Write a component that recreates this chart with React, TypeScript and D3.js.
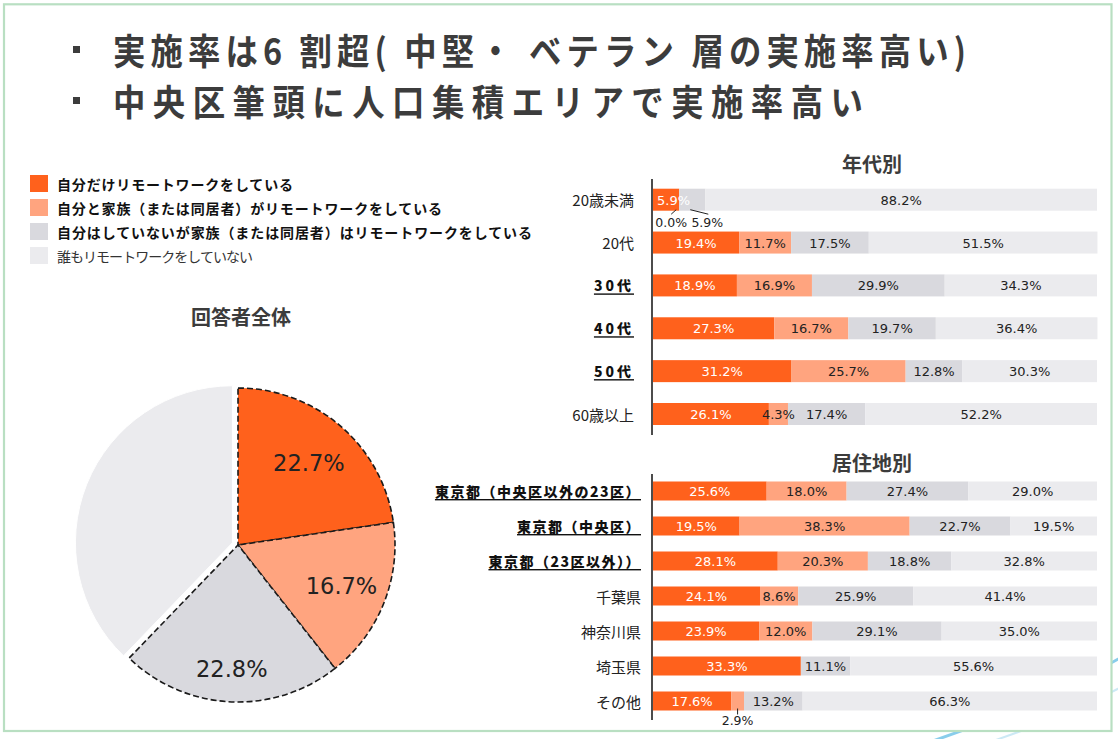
import React from "react";
import * as d3 from "d3";

// ---------- data ----------
const titleLines = [
  "実施率は6 割超( 中堅・ ベテラン 層の実施率高い)",
  "中央区筆頭に人口集積エリアで実施率高い",
];

const seriesNames = [
  "自分だけリモートワークをしている",
  "自分と家族（または同居者）がリモートワークをしている",
  "自分はしていないが家族（または同居者）はリモートワークをしている",
  "誰もリモートワークをしていない",
];
const seriesBold = [true, true, true, false];

const pieTitle = "回答者全体";
const pieValues = [22.7, 16.7, 22.8, 37.8];
const pieLabeled = [true, true, true, false];

const ageTitle = "年代別";
const ageCategories = ["20歳未満", "20代", "30代", "40代", "50代", "60歳以上"];
const ageEmphasis = [false, false, true, true, true, false];
const ageSolo = [5.9, 19.4, 18.9, 27.3, 31.2, 26.1];
const ageWithFamily = [0.0, 11.7, 16.9, 16.7, 25.7, 4.3];
const ageFamilyOnly = [5.9, 17.5, 29.9, 19.7, 12.8, 17.4];
const ageNone = [88.2, 51.5, 34.3, 36.4, 30.3, 52.2];

const regionTitle = "居住地別";
const regionCategories = [
  "東京都（中央区以外の23区）",
  "東京都（中央区）",
  "東京都（23区以外））",
  "千葉県",
  "神奈川県",
  "埼玉県",
  "その他",
];
const regionEmphasis = [true, true, true, false, false, false, false];
const regionSolo = [25.6, 19.5, 28.1, 24.1, 23.9, 33.3, 17.6];
const regionWithFamily = [18.0, 38.3, 20.3, 8.6, 12.0, 0, 2.9];
const regionFamilyOnly = [27.4, 22.7, 18.8, 25.9, 29.1, 11.1, 13.2];
const regionNone = [29.0, 19.5, 32.8, 41.4, 35.0, 55.6, 66.3];

// ---------- style ----------
const COLORS = ["#FF611C", "#FFA47F", "#D9D9DE", "#EBEBEE"];
const CJK = "'Noto Sans CJK JP', 'Noto Sans CJK SC', sans-serif";
const NUM = "'DejaVu Sans', Verdana, sans-serif";
const TEXT = "#222";
const HEAD = "#3c3c3c";

type Seg = { row: number; series: number; value: number; x0: number; x1: number };

function buildSegments(cols: number[][], x: d3.ScaleLinear<number, number>): Seg[] {
  const out: Seg[] = [];
  const n = cols[0].length;
  for (let r = 0; r < n; r++) {
    let acc = 0;
    cols.forEach((col, s) => {
      const v = col[r];
      out.push({ row: r, series: s, value: v, x0: x(acc), x1: x(acc + v) });
      acc += v;
    });
  }
  return out;
}

function StackedChart(props: {
  title: string;
  titleY: number;
  categories: string[];
  emphasis: boolean[];
  cols: number[][];
  yRange: [number, number];
  axisRange: [number, number];
  barH: number;
  labelRight: number;
  outside: Record<string, "left" | "right" | "below">;
  firstInsideLeft?: boolean;
  catFont: number;
  boldFont: number;
  boldSpacing: number;
}) {
  const x = d3.scaleLinear().domain([0, 100]).range([653, 1097]);
  const y = d3.scalePoint<string>().domain(props.categories).range(props.yRange);
  const segs = buildSegments(props.cols, x);
  const fmt = (v: number) => v.toFixed(1) + "%";
  const OUT_FS = 12.5;
  return (
    <g>
      <text
        x={872}
        y={props.titleY}
        textAnchor="middle"
        dominantBaseline="central"
        fontFamily={CJK}
        fontWeight={700}
        fontSize={20}
        fill={HEAD}
      >
        {props.title}
      </text>
      {segs.map((s, i) => (
        <rect
          key={"r" + i}
          x={s.x0}
          y={(y(props.categories[s.row]) as number) - props.barH / 2}
          width={Math.max(0, s.x1 - s.x0)}
          height={props.barH}
          fill={COLORS[s.series]}
        />
      ))}
      <line
        x1={652}
        x2={652}
        y1={props.axisRange[0]}
        y2={props.axisRange[1]}
        stroke="#111"
        strokeWidth={1.5}
      />
      {segs.map((s, i) => {
        const cy = y(props.categories[s.row]) as number;
        const key = s.row + "-" + s.series;
        const mode = props.outside[key];
        const color = s.series === 0 ? "#fff" : TEXT;
        if (mode) {
          const bottom = cy + props.barH / 2;
          const ly = bottom + 12;
          const cx = (s.x0 + s.x1) / 2;
          if (mode === "left") {
            const lx = cx - 8;
            return (
              <g key={"t" + i}>
                <line x1={lx} y1={bottom + 3.5} x2={s.x0 - 3} y2={bottom - 1} stroke="#222" strokeWidth={1} />
                <text x={lx} y={ly} textAnchor="middle" dominantBaseline="central" fontFamily={NUM} fontSize={OUT_FS} fill={TEXT}>
                  {fmt(s.value)}
                </text>
              </g>
            );
          }
          if (mode === "right") {
            const lx = cx + 15;
            return (
              <g key={"t" + i}>
                <line x1={cx - 2} y1={bottom - 1} x2={lx + 1} y2={bottom + 3.5} stroke="#222" strokeWidth={1} />
                <text x={lx} y={ly} textAnchor="middle" dominantBaseline="central" fontFamily={NUM} fontSize={OUT_FS} fill={TEXT}>
                  {fmt(s.value)}
                </text>
              </g>
            );
          }
          return (
            <g key={"t" + i}>
              <line x1={cx} y1={bottom - 2} x2={cx} y2={bottom + 4} stroke="#222" strokeWidth={1} />
              <text x={cx} y={ly - 2} textAnchor="middle" dominantBaseline="central" fontFamily={NUM} fontSize={OUT_FS} fill={TEXT}>
                {fmt(s.value)}
              </text>
            </g>
          );
        }
        if (s.value <= 0) return null;
        const narrowStart = props.firstInsideLeft && s.series === 0 && s.x1 - s.x0 < 34;
        return (
          <text
            key={"t" + i}
            x={narrowStart ? s.x0 + 4 : (s.x0 + s.x1) / 2}
            y={cy + 0.5}
            textAnchor={narrowStart ? "start" : "middle"}
            dominantBaseline="central"
            fontFamily={NUM}
            fontSize={13}
            fill={color}
          >
            {fmt(s.value)}
          </text>
        );
      })}
      {props.categories.map((c, i) => {
        const cy = y(c) as number;
        const bold = props.emphasis[i];
        return (
          <text
            key={"c" + i}
            x={props.labelRight}
            y={cy}
            textAnchor="end"
            dominantBaseline="central"
            fontFamily={CJK}
            fontWeight={bold ? 900 : 400}
            fontSize={bold ? props.boldFont : props.catFont}
            letterSpacing={bold ? props.boldSpacing : 0}
            fill={bold ? "#111" : TEXT}
            style={bold ? { textDecoration: "underline" } : undefined}
          >
            {c}
          </text>
        );
      })}
    </g>
  );
}

export default function App() {
  const W = 1118;
  const H = 739;

  // pie
  const R = 157;
  const cx = 238;
  const cy = 545;
  const arcs = d3.pie<number>().sort(null).value((d) => d)(pieValues);
  const arcGen = d3.arc<d3.PieArcDatum<number>>().innerRadius(0).outerRadius(R);
  const labelFactors = [0.69, 0.71, 0.79];
  const titleScaleX = 0.9;

  return (
    <svg
      width={W}
      height={H}
      viewBox={`0 0 ${W} ${H}`}
      style={{ position: "absolute", left: 0, top: 0, background: "#fff" }}
    >
      {/* decorative swoosh behind the page */}
      <path d="M 930 742 Q 1050 700 1125 655" fill="none" stroke="#6cc0e6" strokeWidth={3} opacity={0.8} />
      <path d="M 990 742 Q 1070 715 1125 685" fill="none" stroke="#bfe3f3" strokeWidth={2} opacity={0.8} />
      <rect x={4} y={4.3} width={1107.5} height={726.7} fill="#fff" stroke="#b9dfc2" strokeWidth={2.2} />

      {/* title */}
      {titleLines.map((t, i) => (
        <g key={"tl" + i}>
          <rect x={73} y={46 + i * 51} width={7} height={7} fill={HEAD} />
          <text
            transform={`translate(113,${49.5 + i * 51}) scale(${titleScaleX},1)`}
            x={0}
            y={0}
            dominantBaseline="central"
            fontFamily={CJK}
            fontWeight={700}
            fontSize={36}
            fill={HEAD}
            textLength={(i === 0 ? 853 : 750) / titleScaleX}
            lengthAdjust="spacing"
          >
            {t}
          </text>
        </g>
      ))}

      {/* legend */}
      {seriesNames.map((n, i) => (
        <g key={"lg" + i}>
          <rect x={30} y={175 + i * 24} width={18} height={17} fill={COLORS[i]} />
          <text
            x={57}
            y={183.5 + i * 24}
            dominantBaseline="central"
            fontFamily={CJK}
            fontWeight={seriesBold[i] ? 700 : 400}
            fontSize={14}
            fill={seriesBold[i] ? "#111" : "#333"}
            textLength={[236, 385, 475, 196][i]}
            lengthAdjust="spacing"
          >
            {n}
          </text>
        </g>
      ))}

      {/* pie */}
      <text
        x={241}
        y={316}
        textAnchor="middle"
        dominantBaseline="central"
        fontFamily={CJK}
        fontWeight={700}
        fontSize={20}
        fill={HEAD}
      >
        {pieTitle}
      </text>
      <g transform={`translate(${cx},${cy})`}>
        {arcs.map((a, i) => {
          const mid = (a.startAngle + a.endAngle) / 2;
          const off = pieLabeled[i] ? 0 : 6;
          const dx = Math.sin(mid) * off;
          const dy = -Math.cos(mid) * off;
          return (
            <path
              key={"p" + i}
              d={arcGen(a) as string}
              transform={`translate(${dx},${dy})`}
              fill={COLORS[i]}
              stroke={pieLabeled[i] ? "#1a1a1a" : "#fff"}
              strokeWidth={pieLabeled[i] ? 1.6 : 1}
              strokeDasharray={pieLabeled[i] ? "6 3" : undefined}
            />
          );
        })}
        {arcs.map((a, i) => {
          if (!pieLabeled[i]) return null;
          const mid = (a.startAngle + a.endAngle) / 2;
          const r = R * labelFactors[i];
          return (
            <text
              key={"pl" + i}
              x={Math.sin(mid) * r}
              y={-Math.cos(mid) * r}
              textAnchor="middle"
              dominantBaseline="central"
              fontFamily={NUM}
              fontSize={22.5}
              fill={TEXT}
            >
              {a.value.toFixed(1)}%
            </text>
          );
        })}
      </g>

      <StackedChart
        title={ageTitle}
        titleY={163}
        categories={ageCategories}
        emphasis={ageEmphasis}
        cols={[ageSolo, ageWithFamily, ageFamilyOnly, ageNone]}
        yRange={[199.7, 414]}
        axisRange={[179, 435]}
        barH={22}
        labelRight={634}
        outside={{ "0-1": "left", "0-2": "right" }}
        firstInsideLeft
        catFont={15}
        boldFont={14}
        boldSpacing={3}
      />
      <StackedChart
        title={regionTitle}
        titleY={462}
        categories={regionCategories}
        emphasis={regionEmphasis}
        cols={[regionSolo, regionWithFamily, regionFamilyOnly, regionNone]}
        yRange={[491, 701]}
        axisRange={[474, 720]}
        barH={19}
        labelRight={641}
        outside={{ "6-1": "below" }}
        catFont={15}
        boldFont={14}
        boldSpacing={1.5}
      />
    </svg>
  );
}
